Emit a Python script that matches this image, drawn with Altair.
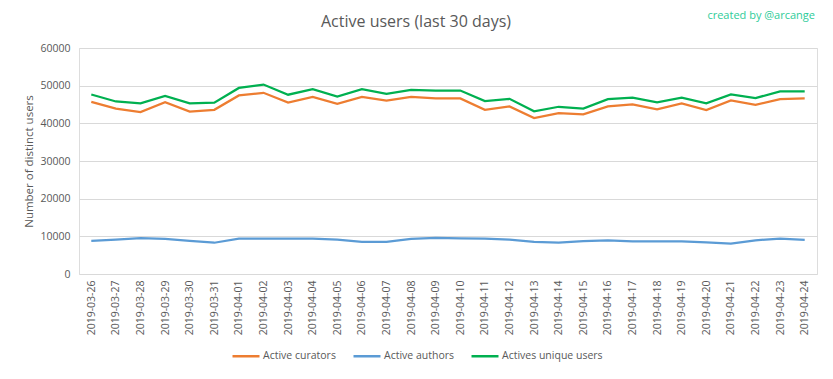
import altair as alt
import pandas as pd

dates = ["2019-03-26", "2019-03-27", "2019-03-28", "2019-03-29", "2019-03-30", "2019-03-31",
         "2019-04-01", "2019-04-02", "2019-04-03", "2019-04-04", "2019-04-05", "2019-04-06",
         "2019-04-07", "2019-04-08", "2019-04-09", "2019-04-10", "2019-04-11", "2019-04-12",
         "2019-04-13", "2019-04-14", "2019-04-15", "2019-04-16", "2019-04-17", "2019-04-18",
         "2019-04-19", "2019-04-20", "2019-04-21", "2019-04-22", "2019-04-23", "2019-04-24"]

curators = [45700, 43900, 43000, 45600, 43100, 43600, 47400, 48100, 45500, 47000,
            45200, 47000, 46000, 47000, 46600, 46600, 43600, 44500, 41400, 42700,
            42400, 44500, 45000, 43700, 45300, 43500, 46100, 44900, 46400, 46600]

authors = [8800, 9100, 9500, 9300, 8800, 8300, 9400, 9400, 9400, 9400,
           9100, 8550, 8550, 9300, 9600, 9450, 9400, 9100, 8550, 8300,
           8700, 8950, 8650, 8650, 8650, 8400, 8050, 8950, 9400, 9050]

unique_users = [47650, 45800, 45300, 47300, 45300, 45500, 49400, 50300, 47600, 49100,
                47100, 49100, 47800, 48900, 48700, 48700, 45900, 46500, 43200, 44400,
                43900, 46400, 46800, 45600, 46800, 45300, 47700, 46700, 48500, 48500]

series_names = ["Active curators", "Active authors", "Actives unique users"]
series_colors = ["#ED7D31", "#5B9BD5", "#00B050"]

chart_title = "Active users (last 30 days)"
credit_text = "created by @arcange"

rows = []
for name, vals in zip(series_names, [curators, authors, unique_users]):
    for d, v in zip(dates, vals):
        rows.append({"date": d, "value": v, "series": name})
df = pd.DataFrame(rows)

FONT = "Open Sans"
GREY = "#595959"

lines = alt.Chart(df).mark_line(strokeWidth=2.25).encode(
    x=alt.X("date:O", sort=dates,
            scale=alt.Scale(type="point", padding=0.5),
            axis=alt.Axis(title=None, labelAngle=-90, labelFont=FONT, labelFontSize=10.5,
                          labelColor=GREY, labelPadding=6, ticks=False, domain=False,
                          grid=False)),
    y=alt.Y("value:Q", scale=alt.Scale(domain=[0, 60000], nice=False),
            axis=alt.Axis(title="Number of distinct users", values=[0, 10000, 20000, 30000, 40000, 50000, 60000],
                          format="d", labelFont=FONT, labelFontSize=10.5, labelColor=GREY,
                          labelPadding=9, ticks=False, domain=False, gridColor="#D9D9D9",
                          titleFont=FONT, titleFontSize=11.5, titleFontWeight="normal",
                          titleColor=GREY, titlePadding=5)),
    color=alt.Color("series:N", sort=series_names,
                    scale=alt.Scale(domain=series_names, range=series_colors),
                    legend=alt.Legend(title=None, orient="none", direction="horizontal",
                                      legendX=152, legendY=293,
                                      symbolType="stroke", symbolSize=729,
                                      symbolStrokeWidth=2.5, labelFont=FONT,
                                      labelFontSize=10.5, labelColor=GREY,
                                      columnPadding=12, labelOffset=2)),
    order=alt.Order("date:O"),
)

credit = alt.Chart(pd.DataFrame({"t": [credit_text]})).mark_text(
    align="right", baseline="alphabetic", font=FONT, fontSize=11, color="#2ECC99"
).encode(x=alt.value(736), y=alt.value(-29), text="t:N")

title = alt.Chart(pd.DataFrame({"t": [chart_title]})).mark_text(
    align="center", baseline="alphabetic", font=FONT, fontSize=16, color=GREY
).encode(x=alt.value(337), y=alt.value(-21), text="t:N")

chart = alt.layer(lines, credit, title).properties(
    width=738, height=226,
    autosize=alt.AutoSizeParams(type="none"),
    padding={"left": 71, "top": 40, "right": 8, "bottom": 97},
).configure_view(stroke=None).configure(background="white")

chart.save("out.html", embed_options={"renderer": "svg", "actions": False})
